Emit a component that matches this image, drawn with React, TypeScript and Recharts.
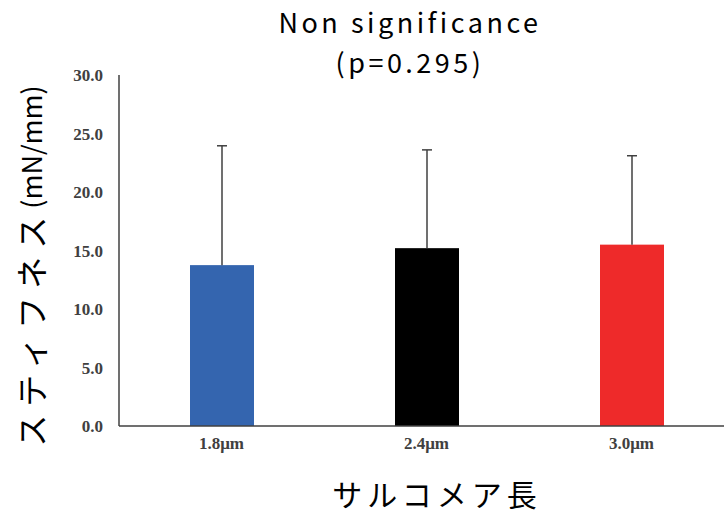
import { BarChart, Bar, XAxis, YAxis, Cell } from 'recharts';

const categories = ['1.8μm', '2.4μm', '3.0μm'];
const stiffness = [13.75, 15.2, 15.5];
const upperError = [10.2, 8.4, 7.6];
const barColors = ['#3465AF', '#000000', '#EE2A2A'];
const yTicks = [0, 5, 10, 15, 20, 25, 30];
const titleLines = ['Non significance', '(p=0.295)'];

const data = categories.map((name, i) => ({
  name,
  value: stiffness[i],
  err: upperError[i],
}));

const jp = '"Noto Sans CJK JP", "Noto Sans", sans-serif';
const serif = '"Liberation Serif", "DejaVu Serif", serif';
const axisColor = '#404040';

// bar with a one-sided (upper) error whisker, scaled from the bar's own height
function BarWithError(props: any) {
  const { x, y, width, height, fill, payload } = props;
  const pxPerUnit = height / payload.value;
  const top = y - payload.err * pxPerUnit;
  const cx = x + width / 2;
  return (
    <g>
      <rect x={x} y={y} width={width} height={height} fill={fill} />
      <line x1={cx} y1={y} x2={cx} y2={top} stroke={axisColor} strokeWidth={1.5} />
      <line x1={cx - 5} y1={top} x2={cx + 5} y2={top} stroke={axisColor} strokeWidth={1.5} />
    </g>
  );
}

function YLabel() {
  return (
    <text
      x={30}
      y={266}
      transform="rotate(-90 30 266)"
      textAnchor="middle"
      dominantBaseline="central"
      fontFamily={jp}
      fill="#000"
    >
      <tspan fontSize={32} letterSpacing={8}>スティフネス</tspan>
      <tspan fontSize={27}>(mN/mm)</tspan>
    </text>
  );
}

function XLabel() {
  return (
    <text
      x={437}
      y={493}
      textAnchor="middle"
      dominantBaseline="central"
      fontFamily={jp}
      fontSize={30}
      letterSpacing={5}
      fill="#000"
    >
      サルコメア長
    </text>
  );
}

export default function App() {
  return (
    <div
      style={{
        position: 'absolute',
        left: 0,
        top: 0,
        width: 724,
        height: 514,
        overflow: 'hidden',
        background: '#fff',
      }}
    >
      {titleLines.map((line, i) => (
        <div
          key={line}
          style={{
            position: 'absolute',
            left: 210,
            width: 400,
            top: 2 + i * 39.5,
            textAlign: 'center',
            fontFamily: jp,
            fontSize: 27,
            letterSpacing: 3.5,
            lineHeight: '39px',
            color: '#000',
            whiteSpace: 'nowrap',
          }}
        >
          {line}
        </div>
      ))}
      <BarChart
        width={734}
        height={514}
        data={data}
        margin={{ top: 75, right: 0, left: 0, bottom: 0 }}
        barSize={64}
      >
        <XAxis
          dataKey="name"
          height={88}
          tickSize={0}
          tickMargin={11}
          axisLine={{ stroke: axisColor, strokeWidth: 1.5 }}
          tick={{ fontFamily: serif, fontSize: 17, fontWeight: 'bold', fill: axisColor }}
          label={<XLabel />}
        />
        <YAxis
          width={119}
          domain={[0, 30]}
          ticks={yTicks}
          tickSize={0}
          tickMargin={16}
          tickFormatter={(v: number) => v.toFixed(1)}
          axisLine={{ stroke: axisColor, strokeWidth: 1.5 }}
          tick={{ fontFamily: serif, fontSize: 17, fontWeight: 'bold', fill: axisColor }}
          label={<YLabel />}
        />
        <Bar dataKey="value" isAnimationActive={false} shape={<BarWithError />}>
          {data.map((d, i) => (
            <Cell key={d.name} fill={barColors[i]} />
          ))}
        </Bar>
      </BarChart>
    </div>
  );
}
